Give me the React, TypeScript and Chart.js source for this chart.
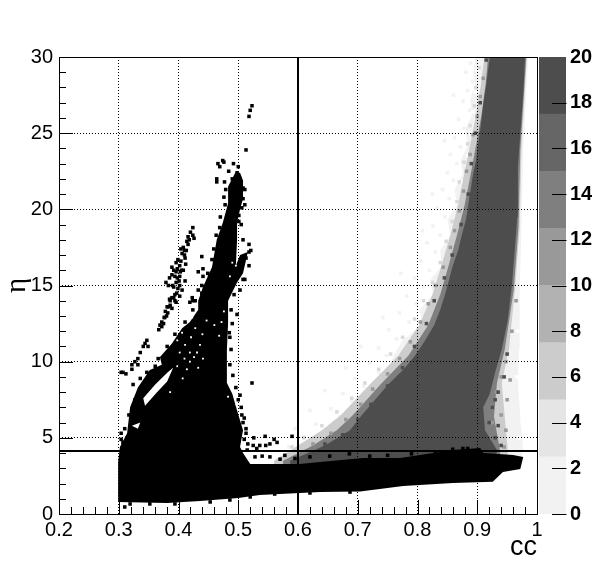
import React, { useEffect, useRef } from "react";
import { Chart, registerables } from "chart.js";

Chart.register(...registerables);

type P = [number, number];

const ccTickLabels: Record<string, string> = { "0.2": "0.2", "0.3": "0.3", "0.4": "0.4", "0.5": "0.5", "0.6": "0.6", "0.7": "0.7", "0.8": "0.8", "0.9": "0.9", "1": "1" };
const paletteEdges = [0, 2.5, 5, 7.5, 10, 12.5, 15, 17.5, 20];
const paletteColors = ["#f2f2f2", "#e5e5e5", "#cccccc", "#b2b2b2", "#999999", "#7f7f7f", "#666666", "#4d4d4d"];
const cutCc = 0.6;
const cutEta = 4.13;

const haloOutline: P[] = [[0.897,30],[0.893,29],[0.896,28.2],[0.888,27.2],[0.891,26.2],[0.88,25.2],[0.884,24.2],[0.872,23.2],[0.876,22.3],[0.862,21.3],[0.866,20.3],[0.85,19.3],[0.855,18.3],[0.838,17.3],[0.84,16.3],[0.822,15.4],[0.826,14.4],[0.803,13.4],[0.808,12.4],[0.775,11.4],[0.76,10.4],[0.75,9.5],[0.725,8.5],[0.705,7.5],[0.685,6.5],[0.655,5.5],[0.63,4.7],[0.6,4],[0.57,3.5],[0.57,3],[0.97,3],[0.977,4.2],[0.972,6.4],[0.968,8.6],[0.97,10.8],[0.971,14.7],[0.974,18.8],[0.977,23.9],[0.985,30]];
const lightOutline: P[] = [[0.912,30],[0.906,28.2],[0.898,26.2],[0.888,24.2],[0.878,22.3],[0.868,20.3],[0.855,18.3],[0.84,16.3],[0.825,14.4],[0.803,12.4],[0.768,10.4],[0.72,8.5],[0.672,6.5],[0.64,5.5],[0.6,4.5],[0.56,3.5],[0.56,3],[0.95,3],[0.951,4.2],[0.946,6.4],[0.941,8.6],[0.953,10.8],[0.963,14.7],[0.971,18.8],[0.974,23.9],[0.983,30]];
const midOutline: P[] = [[0.918,30],[0.914,28.2],[0.907,26.2],[0.898,24.2],[0.889,22.3],[0.879,20.3],[0.866,18.3],[0.852,16.3],[0.838,14.4],[0.818,12.4],[0.785,10.4],[0.738,8.5],[0.692,6.5],[0.665,5.5],[0.625,4.5],[0.575,3.5],[0.575,3],[0.94,3],[0.938,4.2],[0.928,6.4],[0.933,8.6],[0.946,10.8],[0.961,14.7],[0.969,18.8],[0.972,23.9],[0.982,30]];
const coreOutline: P[] = [[0.921,30],[0.918,29.1],[0.915,28.2],[0.911,27.2],[0.908,26.2],[0.905,25.2],[0.901,24.2],[0.898,23.2],[0.893,22.3],[0.889,21.3],[0.885,20.3],[0.881,19.3],[0.874,18.3],[0.868,17.3],[0.859,16.3],[0.853,15.4],[0.846,14.4],[0.838,13.4],[0.828,12.4],[0.813,11.4],[0.796,10.4],[0.777,9.5],[0.751,8.5],[0.729,7.5],[0.707,6.5],[0.687,5.5],[0.645,4.5],[0.587,3.5],[0.587,3],[0.93,3],[0.933,4.2],[0.913,5.5],[0.91,7],[0.921,7.9],[0.93,9.3],[0.941,10.8],[0.951,12.7],[0.958,15],[0.967,19.5],[0.968,22.8],[0.977,27.6],[0.98,30]];

const faintSpeckles: P[] = [[0.889,29.6],[0.881,29],[0.892,28.4],[0.884,27.8],[0.876,27.1],[0.887,26.5],[0.869,25.9],[0.878,25.3],[0.862,24.7],[0.872,24.1],[0.855,23.6],[0.866,23],[0.85,22.4],[0.86,21.9],[0.842,21.3],[0.853,20.7],[0.833,20.1],[0.846,19.5],[0.826,18.9],[0.838,18.3],[0.816,17.8],[0.83,17.2],[0.806,16.6],[0.82,16],[0.795,15.5],[0.81,14.9],[0.782,14.3],[0.798,13.8],[0.77,13.2],[0.786,12.6],[0.752,12.1],[0.765,11.5],[0.735,10.9],[0.748,10.4],[0.72,9.9],[0.735,9.3],[0.695,8.9],[0.71,8.4],[0.675,7.9],[0.69,7.4],[0.655,6.9],[0.67,6.4],[0.63,5.9],[0.648,5.5],[0.61,5.1],[0.625,4.7],[0.585,4.4],[0.742,12.9],[0.705,11],[0.68,9.6],[0.645,8.1],[0.62,6.8],[0.595,5.6],[0.772,15.8],[0.808,18.6],[0.825,21],[0.845,24.5],[0.86,27.5]];
const haloHoles: P[] = [[0.9,29.2],[0.897,27.7],[0.893,26.4],[0.889,25],[0.884,23.5],[0.876,21.8],[0.87,20.4],[0.86,18.6],[0.848,16.8],[0.836,15.1],[0.818,13.1],[0.79,11.5],[0.77,10],[0.74,8.6],[0.715,7.3],[0.69,6.1],[0.655,5.2],[0.625,4.4],[0.975,6],[0.966,9],[0.968,12],[0.97,5]];
const lightSpeckles: P[] = [[0.903,29.3],[0.898,28],[0.895,26.8],[0.888,25.5],[0.884,24.3],[0.878,23.1],[0.87,21.8],[0.866,20.5],[0.858,19.2],[0.848,17.9],[0.838,16.5],[0.825,15.2],[0.81,14],[0.795,12.8],[0.775,11.6],[0.755,10.5],[0.735,9.5],[0.712,8.6],[0.69,7.6],[0.665,6.7],[0.64,5.8],[0.61,5],[0.59,4.4]];
const midSpeckles: P[] = [[0.91,28.6],[0.905,27.4],[0.9,26.1],[0.893,24.9],[0.888,23.6],[0.882,22.5],[0.877,21.2],[0.87,19.9],[0.862,18.6],[0.855,17.5],[0.843,16.2],[0.83,15],[0.818,13.8],[0.805,12.6],[0.788,11.3],[0.77,10.2],[0.75,9.2],[0.725,8.2],[0.705,7.2],[0.68,6.2],[0.655,5.3],[0.625,4.6],[0.948,10],[0.94,9],[0.932,8],[0.924,7],[0.925,6],[0.932,5],[0.945,4.4],[0.958,12],[0.965,14],[0.95,7.5],[0.94,6.5],[0.948,5.5],[0.955,8.8]];
const darkSpeckles: P[] = [[0.915,29.8],[0.905,27],[0.897,25],[0.89,23],[0.885,21],[0.873,19],[0.858,17],[0.845,15.5],[0.828,14],[0.815,12.5],[0.795,11],[0.775,9.6],[0.75,8.4],[0.722,7.2],[0.7,6.2],[0.675,5.2],[0.645,4.6],[0.945,9],[0.935,8],[0.925,7],[0.92,6],[0.93,5],[0.94,4.5],[0.95,10.5],[0.93,7.5],[0.935,5.8]];

const blackOutline: P[] = [[0.299,0.79],[0.381,0.72],[0.436,0.85],[0.5,1.05],[0.536,1.25],[0.603,1.38],[0.637,1.44],[0.704,1.48],[0.776,1.84],[0.859,2.04],[0.926,2.12],[0.943,2.76],[0.972,2.95],[0.977,3.74],[0.96,3.87],[0.91,4],[0.905,4.33],[0.859,4.2],[0.804,3.87],[0.771,3.68],[0.709,3.68],[0.637,3.41],[0.603,3.28],[0.52,3.28],[0.508,4],[0.503,4.4],[0.508,5.5],[0.498,6.8],[0.49,7.9],[0.481,8.6],[0.481,10.8],[0.483,12.5],[0.483,14],[0.498,15.2],[0.508,15.8],[0.516,17.2],[0.503,17],[0.496,16.3],[0.498,18],[0.498,19.1],[0.503,20],[0.508,20.7],[0.508,21.9],[0.503,22.4],[0.495,22.4],[0.483,21.5],[0.483,20.4],[0.474,19.1],[0.464,18],[0.456,16.2],[0.441,14.9],[0.433,14],[0.433,13.4],[0.419,12.6],[0.406,12.2],[0.389,11.2],[0.369,10.3],[0.372,9.8],[0.352,9.45],[0.332,8.3],[0.319,7],[0.314,5.3],[0.302,4.4],[0.299,3.4]];
const gapOutlineA: P[] = [[0.344,7.1],[0.364,8],[0.381,8.7],[0.391,9.6],[0.382,9.3],[0.361,8.5],[0.341,7.6]];
const gapOutlineB: P[] = [[0.322,5.8],[0.336,6],[0.332,5.6]];

const tipMarkers: P[] = [[0.523,26.8],[0.52,26.5],[0.518,26.1],[0.513,23.9],[0.474,23.2],[0.466,23],[0.469,22.8],[0.476,23.1],[0.464,22],[0.464,21.8],[0.498,22.4],[0.503,22],[0.508,21.4],[0.508,20.7],[0.506,20.1],[0.501,19.6],[0.501,19.2],[0.495,18.2],[0.518,17.7],[0.518,17.2],[0.508,15.4],[0.498,13.1],[0.49,12.5],[0.486,11.6]];
const streakMarkers: P[] = [[0.424,18.8],[0.424,18.3],[0.426,18.1],[0.414,17.9],[0.416,17.7],[0.408,17.5],[0.406,17.1],[0.411,16.8],[0.399,16.7],[0.402,16.3],[0.396,16.5],[0.389,16.2],[0.396,15.9],[0.389,15.7],[0.394,15.6],[0.401,15.3],[0.379,15.2],[0.411,15.3],[0.439,16.9],[0.441,16.1],[0.433,15.9],[0.441,15.6],[0.449,15.8],[0.439,15],[0.433,14.7],[0.439,14.5],[0.399,14.8],[0.406,14.7],[0.397,14.5],[0.389,14.2],[0.394,14],[0.386,13.7],[0.381,13.6],[0.389,13.5],[0.382,13.2],[0.377,12.9],[0.372,12.6],[0.372,12.3],[0.367,12.1],[0.423,14.2],[0.419,13.9],[0.424,14],[0.392,14.9],[0.385,14.1],[0.378,13.3],[0.404,16.6],[0.41,17.3],[0.392,16],[0.398,15.5],[0.403,15.9],[0.402,15],[0.394,14.4],[0.386,14],[0.404,17.4],[0.413,17.3],[0.418,18],[0.375,12.5],[0.38,13],[0.402,14.3],[0.396,13.9],[0.396,15.2],[0.39,15],[0.402,15.6],[0.408,16],[0.412,16.4],[0.405,16],[0.385,15.5],[0.383,15],[0.392,14.2],[0.383,13.6],[0.376,12.9],[0.369,12.4],[0.42,18.5],[0.416,18.2],[0.41,17],[0.398,16.1]];
const lowLeftMarkers: P[] = [[0.347,11.4],[0.344,11.2],[0.349,11],[0.341,11],[0.336,10.6],[0.332,10.2],[0.327,10],[0.322,9.8],[0.332,9.8],[0.322,9.5],[0.307,9.3],[0.304,9.3],[0.312,9.2],[0.304,5.3],[0.307,4.7],[0.314,5],[0.31,0.46]];
const bandMarkers: P[] = [[0.523,8.6],[0.503,7.8],[0.506,6.5],[0.508,6],[0.513,5.3],[0.526,5],[0.545,5.1],[0.56,4.9],[0.59,5.1],[0.516,4.6],[0.525,4.5],[0.536,4.5],[0.546,4.5],[0.553,4.6],[0.565,4.7],[0.531,4.3],[0.876,4.3],[0.859,4.25],[0.884,4.3],[0.528,3.75],[0.54,3.8],[0.553,3.75],[0.57,3.6],[0.578,3.85],[0.595,3.65],[0.62,3.75],[0.653,3.8],[0.686,3.95],[0.72,3.8],[0.75,3.85],[0.79,3.95],[0.83,4.05]];
const edgeMarkers: P[] = [[0.485,11.9],[0.488,10.8],[0.486,9.8],[0.491,9.1],[0.496,8.3],[0.5,7.5],[0.505,7],[0.51,6.3],[0.513,5.6],[0.51,4.9],[0.515,4.2],[0.488,13.4],[0.493,14.4],[0.503,14.7],[0.511,15.4],[0.518,16.3],[0.513,16.8],[0.521,17.3],[0.508,18],[0.505,19],[0.511,20.3],[0.511,21.3],[0.461,16.7],[0.452,15.7],[0.469,18.8],[0.478,20.3],[0.479,21.3],[0.49,22],[0.428,14],[0.424,13.4],[0.411,12.6],[0.394,11.8],[0.381,11],[0.366,10.2],[0.304,4.9],[0.31,5.6],[0.317,6.5],[0.327,7.5],[0.324,8.5],[0.336,8.9],[0.347,9.3],[0.361,9.7],[0.319,0.66],[0.352,0.66],[0.394,0.66],[0.453,0.79],[0.486,0.92],[0.52,1.12],[0.561,1.31],[0.62,1.38],[0.687,1.44],[0.445,14.4],[0.45,15.3],[0.456,16.7],[0.459,17.4],[0.463,18.3],[0.47,19.5],[0.476,20.8],[0.477,21.8],[0.484,22.5],[0.492,23],[0.5,22.8],[0.505,21]];
const whiteSpecks: P[] = [[0.398,11.4],[0.406,11.9],[0.411,11.1],[0.421,11.6],[0.431,10.6],[0.402,10.6],[0.419,10.6],[0.423,12.9],[0.414,9.5],[0.419,10],[0.426,10.3],[0.407,8.9],[0.386,8],[0.495,7.6],[0.497,7.2],[0.483,7.7],[0.49,16.5],[0.486,15.6],[0.496,16.3],[0.44,11.8],[0.436,11.1],[0.428,12.2],[0.447,12.7],[0.441,10.2],[0.433,9.6],[0.41,10.2],[0.398,9.7],[0.476,13.3],[0.472,12.6],[0.468,11.7],[0.46,12.4]];

const toPoints = (pts: P[]) => pts.map(([x, y]) => ({ x, y }));
const shape = (pts: P[], color: string, order: number) => ({
  data: toPoints(pts), showLine: true, fill: "shape", backgroundColor: color, borderColor: color, borderWidth: 0, pointRadius: 0, order, tension: 0,
});
const markers = (pts: P[], color: string, order: number, pointRadius = 2.5) => ({
  data: toPoints(pts), showLine: false, pointStyle: "rect", pointRadius, pointBorderWidth: 0, backgroundColor: color, borderColor: color, order,
});
const line = (pts: P[], order: number) => ({
  data: toPoints(pts), showLine: true, borderColor: "#000", borderWidth: 2, pointRadius: 0, fill: false, order,
});

const FONT = "'Liberation Sans', Arial, sans-serif";

const frameTicks = {
  id: "frameTicks",
  afterDraw(c: any) {
    const { ctx, chartArea: a, scales } = c;
    ctx.save();
    ctx.strokeStyle = "#000";
    ctx.lineWidth = 1;
    ctx.strokeRect(a.left + 0.5, a.top + 0.5, a.right - a.left, a.bottom - a.top);
    ctx.beginPath();
    for (let i = 0; i <= 40; i++) {
      const v = 0.2 + i * 0.02;
      const x = Math.round(scales.x.getPixelForValue(v)) + 0.5;
      ctx.moveTo(x, a.bottom);
      ctx.lineTo(x, a.bottom - (i % 5 === 0 ? 14 : 7));
    }
    for (let i = 0; i <= 30; i++) {
      const y = Math.round(scales.y.getPixelForValue(i)) + 0.5;
      ctx.moveTo(a.left, y);
      ctx.lineTo(a.left + (i % 5 === 0 ? 14 : 7), y);
    }
    ctx.stroke();
    ctx.restore();
  },
};

const paletteTicks = {
  id: "paletteTicks",
  afterDraw(c: any) {
    const { ctx, chartArea: a, scales } = c;
    ctx.save();
    ctx.strokeStyle = "#000";
    ctx.lineWidth = 1;
    ctx.beginPath();
    scales.y.ticks.forEach((t: any) => {
      if (t.value === 20) return;
      const y = Math.round(scales.y.getPixelForValue(t.value)) + 0.5;
      ctx.moveTo(a.right + 0.5, y);
      ctx.lineTo(a.right - 14, y);
    });
    ctx.stroke();
    ctx.restore();
  },
};

export default function App() {
  const mainRef = useRef<HTMLCanvasElement>(null);
  const barRef = useRef<HTMLCanvasElement>(null);
  useEffect(() => {
    const main = new Chart(mainRef.current!, {
      type: "scatter",
      data: {
        datasets: [
          markers(faintSpeckles, "#f2f2f2", 21),
          shape(haloOutline, "#f2f2f2", 20),
          markers(haloHoles, "#fff", 19.5),
          shape(lightOutline, "#cccccc", 19),
          markers(lightSpeckles, "#d9d9d9", 18.5),
          shape(midOutline, "#7f7f7f", 18),
          markers(midSpeckles, "#999999", 17.5),
          shape(coreOutline, "#4d4d4d", 17),
          markers(darkSpeckles, "#4d4d4d", 16.5),
          shape(blackOutline, "#000", 16),
          markers(tipMarkers, "#000", 15),
          markers(streakMarkers, "#000", 15),
          markers(lowLeftMarkers, "#000", 15),
          markers(bandMarkers, "#000", 15),
          markers(edgeMarkers, "#000", 15),
          shape(gapOutlineA, "#fff", 14),
          shape(gapOutlineB, "#fff", 14),
          markers(whiteSpecks, "#fff", 13, 1.3),
          line([[cutCc, 0], [cutCc, 30]], 1),
          line([[0.2, cutEta], [1, cutEta]], 1),
        ] as any,
      },
      options: {
        animation: false,
        responsive: false,
        layout: { padding: { top: 57, right: 59 } },
        plugins: { legend: { display: false }, tooltip: { enabled: false } },
        scales: {
          x: {
            type: "linear", min: 0.2, max: 1,
            afterFit: (s: any) => { s.height = 58; },
            grid: { color: "#000", lineWidth: 1, drawTicks: false, z: 1 } as any,
            border: { display: false, dash: [1, 2] },
            ticks: { stepSize: 0.1, maxRotation: 0, padding: 4, color: "#000", font: { family: FONT, size: 20 }, callback: (v: any) => ccTickLabels[String(+(+v).toFixed(1))] ?? "" },
            title: { display: true, text: "cc", align: "end", color: "#000", font: { family: FONT, size: 27 }, padding: { top: 0, bottom: 8 } },
          },
          y: {
            type: "linear", min: 0, max: 30,
            afterFit: (s: any) => { s.width = 59; },
            grid: { color: "#000", lineWidth: 1, drawTicks: false, z: 1 },
            border: { display: false, dash: [1, 2] },
            ticks: { stepSize: 5, padding: 6, color: "#000", font: { family: FONT, size: 20 } },
            title: { display: true, text: "η", color: "#000", font: { family: "'Liberation Serif'", size: 29 }, padding: { top: 0, bottom: 0 } },
          },
        },
      } as any,
      plugins: [frameTicks],
    });
    const bar = new Chart(barRef.current!, {
      type: "bar",
      data: {
        labels: [""],
        datasets: paletteColors.map((color, i) => ({
          data: [[paletteEdges[i], paletteEdges[i + 1]]],
          backgroundColor: color, borderWidth: 0, barPercentage: 1, categoryPercentage: 1, grouped: false,
        })) as any,
      },
      options: {
        animation: false,
        responsive: false,
        layout: { padding: { top: 57, bottom: 58 } },
        plugins: { legend: { display: false }, tooltip: { enabled: false } },
        scales: {
          x: { display: false },
          y: {
            position: "right", min: 0, max: 20,
            afterFit: (s: any) => { s.width = 30; },
            grid: { display: false, drawTicks: false },
            border: { display: false },
            ticks: { stepSize: 2, padding: 4, color: "#000", font: { family: FONT, size: 20, weight: "bold" } },
          },
        },
      } as any,
      plugins: [paletteTicks],
    });
    return () => { main.destroy(); bar.destroy(); };
  }, []);
  return (
    <div style={{ position: "fixed", left: 0, top: 0, width: 596, height: 572, background: "#fff" }}>
      <canvas ref={mainRef} width={596} height={572} style={{ position: "absolute", left: 0, top: 0 }} />
      <canvas ref={barRef} width={57} height={572} style={{ position: "absolute", left: 539, top: 0 }} />
    </div>
  );
}
